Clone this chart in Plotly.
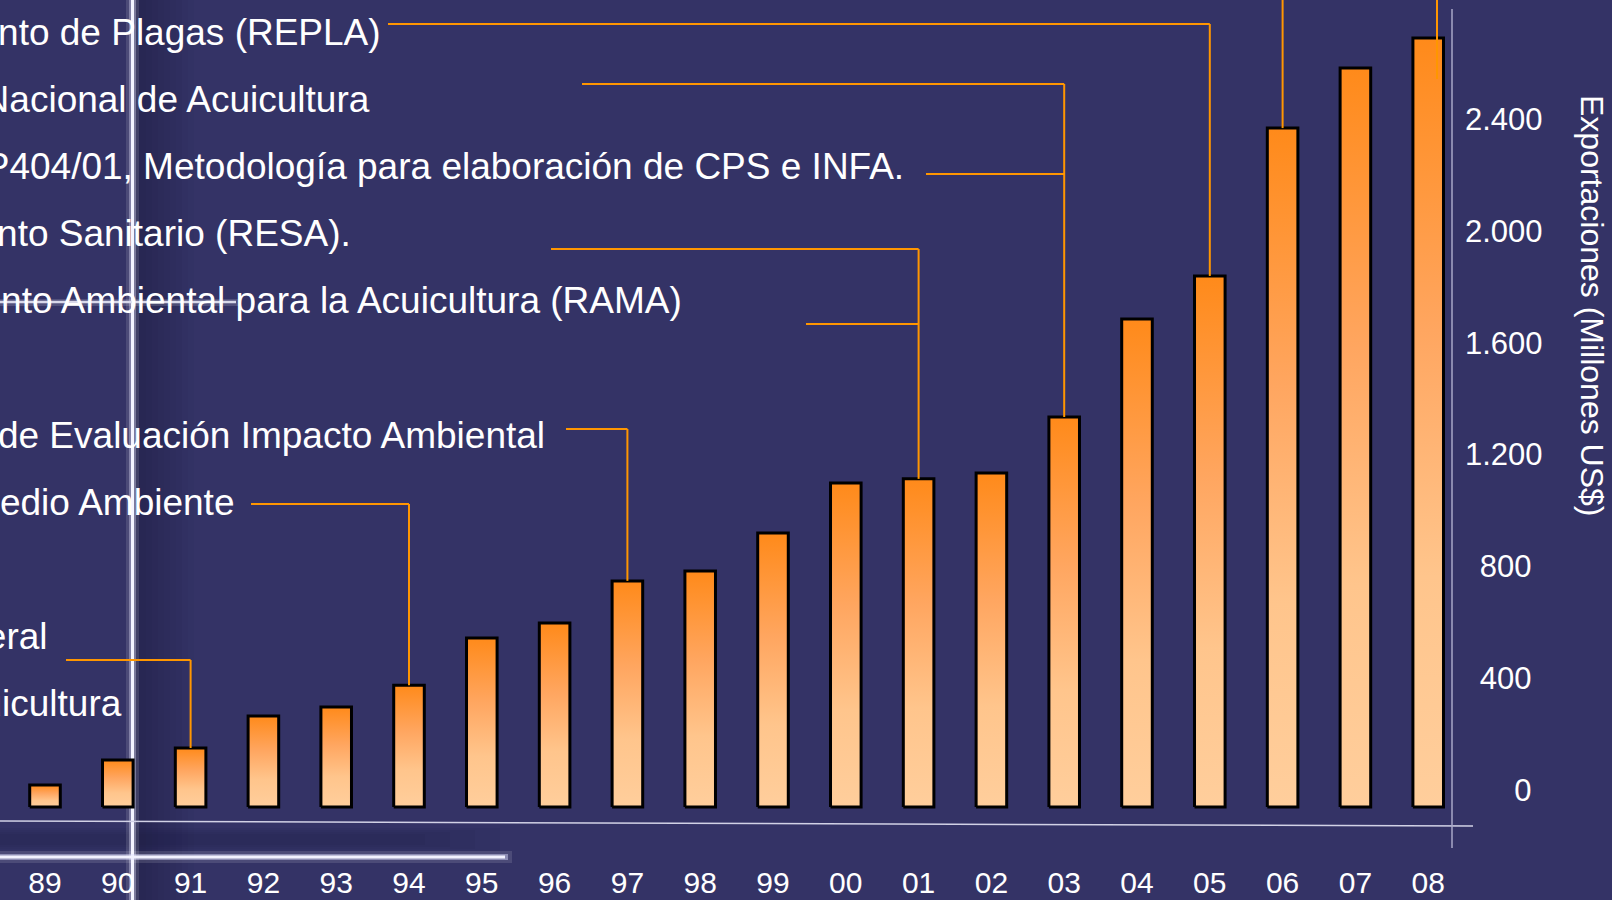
import plotly.graph_objects as go

# ---------------- data ----------------
years = ["89", "90", "91", "92", "93", "94", "95", "96", "97", "98",
         "99", "00", "01", "02", "03", "04", "05", "06", "07", "08"]
exports = [79, 168, 211, 326, 358, 436, 605, 658, 809, 844,
           980, 1159, 1174, 1195, 1395, 1746, 1900, 2429, 2644, 2751]
y_tick_values = [0, 400, 800, 1200, 1600, 2000, 2400]
y_tick_labels = ["0", "400", "800", "1.200", "1.600", "2.000", "2.400"]
y_axis_title = "Exportaciones (Millones US$)"

milestone_texts = [
    "Reglamento de Plagas (REPLA)",
    "Política Nacional de Acuicultura",
    "Res. SSP404/01, Metodología para elaboración de CPS e INFA.",
    "Reglamento Sanitario (RESA).",
    "Reglamento Ambiental para la Acuicultura (RAMA)",
    "Sistema de Evaluación Impacto Ambiental",
    "Ley de Bases del Medio Ambiente",
    "Ley General",
    "de Pesca y Acuicultura",
]
milestone_years = ["05", "03", "03", "01", "01", "97", "94", "91", None]
offscreen_milestone_years = ["06"]

# ---------------- layout / style ----------------
W, H = 1612, 900
PL, PR, PT, PB = 0, 1452, 0, 822
PX_PER_CAT = 72.8
FIRST_CENTER_PX = 45
ZERO_PX = 807
PX_PER_UNIT = 0.2795
x_lo = -FIRST_CENTER_PX / PX_PER_CAT
x_hi = x_lo + (PR - PL) / PX_PER_CAT
y_lo = -(PB - ZERO_PX) / PX_PER_UNIT
y_hi = (ZERO_PX - PT) / PX_PER_UNIT

BG = "#343366"
ORANGE = "#ff9600"
FONT = "Liberation Sans, Arial, sans-serif"
BAR_HALF = 0.21
BAR_SCALE = [[0.0, "#ffce9c"], [0.3, "#ffc58c"], [0.62, "#ffa660"], [1.0, "#ff8a1a"]]

milestone_rows = [0, 1, 2, 3, 4, 6, 7, 9, 10]
milestone_right_px = [383, 372, 906, 353, 684, 547, 236, 50, 124]
leader_y_px = [24, 84, 174, 249, 324, 429, 504, 660, None]
leader_start_px = [388, 582, 926, 551, 806, 566, 251, 66, None]
ROW0_BASELINE, ROW_STEP, TEXT_SIZE = 45, 67.1, 37
# left padding (in em) so tick labels appear centred like the reference
Y_LABEL_PAD_EM = {1: 1.5, 3: 0.55}


def px_x_to_data(px):
    return x_lo + (px - PL) / PX_PER_CAT


def px_y_to_data(py):
    return (ZERO_PX - py) / PX_PER_UNIT


def paper_x(px):
    return (px - PL) / (PR - PL)


def paper_y(py):
    return (PB - py) / (PB - PT)


fig = go.Figure()

# bars as gradient-filled polygons
for i, (yr, v) in enumerate(zip(years, exports)):
    fig.add_trace(go.Scatter(
        x=[i - BAR_HALF, i + BAR_HALF, i + BAR_HALF, i - BAR_HALF, i - BAR_HALF],
        y=[0, 0, v, v, 0],
        fill="toself", mode="lines",
        line=dict(color="black", width=3),
        fillgradient=dict(type="vertical", colorscale=BAR_SCALE),
        name=yr, hoverinfo="skip", showlegend=False,
    ))

shapes = []


def pline(x0, y0, x1, y1, color, width, layer="below", opacity=1.0):
    shapes.append(dict(type="line", xref="paper", yref="paper",
                       x0=paper_x(x0), y0=paper_y(y0), x1=paper_x(x1), y1=paper_y(y1),
                       line=dict(color=color, width=width), layer=layer, opacity=opacity))


def prect(x0, y0, x1, y1, color, opacity, layer="below"):
    shapes.append(dict(type="rect", xref="paper", yref="paper",
                       x0=paper_x(x0), y0=paper_y(y0), x1=paper_x(x1), y1=paper_y(y1),
                       fillcolor=color, line=dict(width=0), layer=layer, opacity=opacity))


# background decoration: dark band right of the glowing vertical line
steps = 10
for k in range(steps):
    prect(134 + k * 6, -5, 140 + k * 6, 905, "#141332", 0.40 * (1 - k / steps))
# subtle dark band under baseline on the left
for k in range(4):
    prect(0, 828 + k * 2, 500 - k * 25, 851 - k * 2, "#1c1b44", 0.08)
# glowing vertical line
prect(126, -5, 139, 905, "#ffffff", 0.12)
prect(129, -5, 136, 905, "#e8e8ff", 0.35)
pline(132.5, -5, 132.5, 905, "#f4f4ff", 3)
# glowing horizontal line near bottom
prect(0, 851, 512, 863, "#ffffff", 0.12)
prect(0, 854, 508, 860, "#e0e0ff", 0.45)
pline(0, 857, 505, 857, "#f2f2ff", 3)
# faint horizontal line across the text area
prect(0, 299, 240, 306, "#ffffff", 0.15)
pline(0, 302, 236, 302, "#d8d8ea", 2.5)

# axis cross lines
pline(0, 821, 1473, 826, "#d2d2e6", 1.5, layer="above")
pline(1452, 9, 1452, 848, "#a8a8c8", 1.5, layer="above")

# leader lines (data-referenced)
cat_index = {y: i for i, y in enumerate(years)}
top_of_vertical = {}
for yr, ly in zip(milestone_years, leader_y_px):
    if yr is None or ly is None:
        continue
    top_of_vertical[yr] = min(top_of_vertical.get(yr, 1e9), ly)
for yr in offscreen_milestone_years:
    top_of_vertical[yr] = -5
for yr, ly in top_of_vertical.items():
    i = cat_index[yr]
    shapes.append(dict(type="line", xref="x", yref="y", x0=i, x1=i,
                       y0=exports[i], y1=px_y_to_data(ly),
                       line=dict(color=ORANGE, width=2), layer="above"))
for yr, ly, sx in zip(milestone_years, leader_y_px, leader_start_px):
    if yr is None or ly is None:
        continue
    i = cat_index[yr]
    shapes.append(dict(type="line", xref="x", yref="y",
                       x0=px_x_to_data(sx), x1=i,
                       y0=px_y_to_data(ly), y1=px_y_to_data(ly),
                       line=dict(color=ORANGE, width=2), layer="above"))
# stray leader near the right axis (from an off-screen label)
pline(1437, -5, 1437, 79, ORANGE, 2, layer="above")

annotations = []
for txt, row, rx in zip(milestone_texts, milestone_rows, milestone_right_px):
    baseline = ROW0_BASELINE + ROW_STEP * row
    annotations.append(dict(
        text=txt, xref="paper", yref="paper",
        x=paper_x(rx), y=paper_y(baseline - 12.5),
        xanchor="right", yanchor="middle", showarrow=False,
        font=dict(family=FONT, size=TEXT_SIZE, color="white"),
    ))
annotations.append(dict(
    text=y_axis_title, xref="paper", yref="paper",
    x=paper_x(1592), y=paper_y(306), textangle=90,
    xanchor="center", yanchor="middle", showarrow=False,
    font=dict(family=FONT, size=32, color="white"),
))


def center_pad(labels):
    out = []
    for s in labels:
        em = Y_LABEL_PAD_EM.get(len(s), 0.0)
        n_nbsp = int(em / 0.278)
        rest = em - n_nbsp * 0.278
        pad = "\u00a0" * n_nbsp + ("\u2009" if rest > 0.1 else "")
        out.append(pad + s)
    return out


fig.update_layout(
    width=W, height=H,
    margin=dict(l=PL, r=W - PR, t=PT, b=H - PB, autoexpand=False),
    paper_bgcolor=BG, plot_bgcolor="rgba(0,0,0,0)",
    font=dict(family=FONT, color="white"),
    showlegend=False,
    shapes=shapes, annotations=annotations,
    xaxis=dict(range=[x_lo, x_hi], tickmode="array",
               tickvals=list(range(len(years))), ticktext=years,
               tickfont=dict(family=FONT, size=30, color="white"),
               showgrid=False, zeroline=False, showline=False, ticks="",
               ticklabelstandoff=40, automargin=False, fixedrange=True),
    yaxis=dict(range=[y_lo, y_hi], side="right", tickmode="array",
               tickvals=y_tick_values, ticktext=center_pad(y_tick_labels),
               tickfont=dict(family=FONT, size=31, color="white"),
               showgrid=False, zeroline=False, showline=False, ticks="",
               ticklabelstandoff=12, ticklabelshift=-17,
               automargin=False, fixedrange=True),
)

fig.write_html(
    "out.html",
    config={"displayModeBar": False},
    post_script="document.body.style.margin='0';document.body.style.padding='0';"
                "document.body.style.background='" + BG + "';",
)
